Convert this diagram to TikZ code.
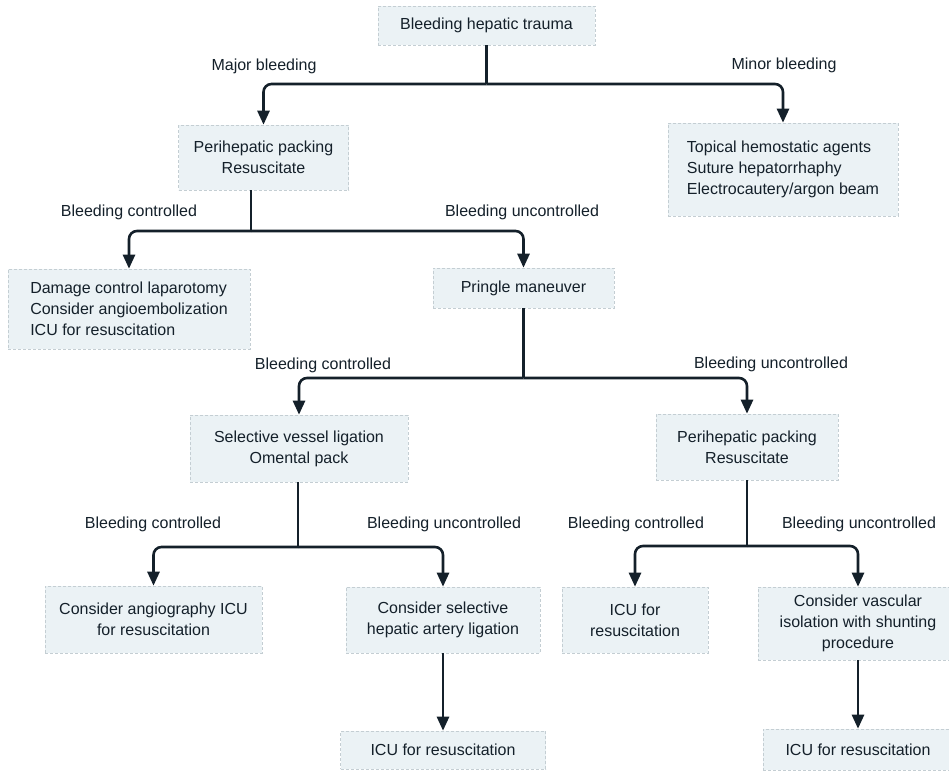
\documentclass[tikz,border=0pt]{standalone}
\usepackage{fontspec}
\setmainfont{Liberation Sans}
\usetikzlibrary{arrows.meta}
\definecolor{boxfill}{HTML}{EBF2F5}
\definecolor{boxline}{HTML}{C4CED3}
\definecolor{ink}{HTML}{14202A}
\tikzset{
  box/.style={draw=boxline, densely dashed, line width=0.6pt, fill=boxfill,
    text=ink, align=center, inner sep=0pt, font=\fontsize{16}{21}\selectfont},
  lbl/.style={text=ink, inner sep=0pt, font=\fontsize{16}{21}\selectfont},
  link/.style={draw=ink, line width=2.6pt, solid},
  flow/.style={link, rounded corners=8pt, -{Triangle[length=14pt,width=12pt]}},
}
\begin{document}
\begin{tikzpicture}[x=1pt,y=-1pt]
\useasboundingbox (0,0) rectangle (949,770);
\fill[white] (0,0) rectangle (949,770);

% boxes
\node[box, minimum width=217pt, minimum height=39pt] (trauma) at (486.5,25.5) {Bleeding hepatic trauma};
\node[box, minimum width=170pt, minimum height=65pt] (pack1) at (263.5,157.5) {Perihepatic packing\\Resuscitate};
\node[box, minimum width=230pt, minimum height=93pt, align=left] (topical) at (783,169.5) {Topical hemostatic agents\\Suture hepatorrhaphy\\Electrocautery/argon beam};
\node[box, minimum width=242pt, minimum height=80pt, align=left] (damage) at (129,309) {Damage control laparotomy\\Consider angioembolization\\ICU for resuscitation};
\node[box, minimum width=181pt, minimum height=40pt] (pringle) at (523.5,288) {Pringle maneuver};
\node[box, minimum width=218pt, minimum height=67pt] (ligation) at (299,448.5) {Selective vessel ligation\\Omental pack};
\node[box, minimum width=182pt, minimum height=66pt] (pack2) at (747,447) {Perihepatic packing\\Resuscitate};
\node[box, minimum width=217pt, minimum height=67pt] (angio) at (153.5,619.5) {Consider angiography ICU\\for resuscitation};
\node[box, minimum width=194pt, minimum height=66pt] (artery) at (443,620) {Consider selective\\hepatic artery ligation};
\node[box, minimum width=146pt, minimum height=66pt] (icuA) at (635,620) {ICU for\\resuscitation};
\node[box, minimum width=200pt, minimum height=73pt] (vascular) at (858,623.5) {Consider vascular\\isolation with shunting\\procedure};
\node[box, minimum width=205pt, minimum height=38pt] (icuB) at (443,750) {ICU for resuscitation};
\node[box, minimum width=190pt, minimum height=41pt] (icuC) at (858,749.5) {ICU for resuscitation};

% branch labels
\node[lbl] (lMajor) at (264,66) {Major bleeding};
\node[lbl] (lMinor) at (784,65) {Minor bleeding};
\node[lbl] (lc1) at (129,212) {Bleeding controlled};
\node[lbl] (lu1) at (522,212) {Bleeding uncontrolled};
\node[lbl] (lc2) at (323,365) {Bleeding controlled};
\node[lbl] (lu2) at (771,364) {Bleeding uncontrolled};
\node[lbl] (lc3) at (153,524) {Bleeding controlled};
\node[lbl] (lu3) at (444,524) {Bleeding uncontrolled};
\node[lbl] (lc4) at (636,524) {Bleeding controlled};
\node[lbl] (lu4) at (859,524) {Bleeding uncontrolled};

% branch points
\coordinate (j1) at (486.5,84);
\coordinate (j2) at (251,231);
\coordinate (j3) at (523.5,378);
\coordinate (j4) at (298,547);
\coordinate (j5) at (747,546);

% connectors
\draw[link] (trauma.south) -- (j1);
\draw[flow] (j1) -| (pack1.north);
\draw[flow] (j1) -| (topical.north);

\draw[link] (pack1.south -| j2) -- (j2);
\draw[flow] (j2) -| (damage.north);
\draw[flow] (j2) -| (pringle.north);

\draw[link] (pringle.south) -- (j3);
\draw[flow] (j3) -| (ligation.north);
\draw[flow] (j3) -| (pack2.north);

\draw[link] (ligation.south -| j4) -- (j4);
\draw[flow] (j4) -| (angio.north);
\draw[flow] (j4) -| (artery.north);

\draw[link] (pack2.south) -- (j5);
\draw[flow] (j5) -| (icuA.north);
\draw[flow] (j5) -| (vascular.north);

\draw[flow] (artery.south) -- (icuB.north);
\draw[flow] (vascular.south) -- (icuC.north);
\end{tikzpicture}
\end{document}
